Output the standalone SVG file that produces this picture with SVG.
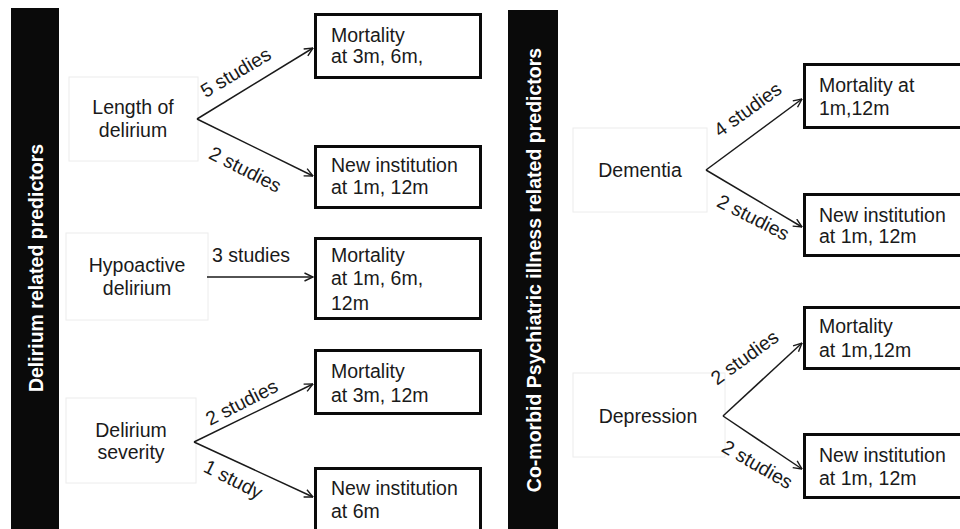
<svg xmlns="http://www.w3.org/2000/svg" width="960" height="529" viewBox="0 0 960 529">
<defs>
<style>
text{font-family:"Liberation Sans",Arial,sans-serif;font-size:19.5px;fill:#1a1a1a}
.bar{fill:#0a0a0a}
.bt{font-weight:bold;fill:#ffffff;text-anchor:middle}
.pred{fill:#ffffff;stroke:#ececec;stroke-width:1}
.out{fill:#ffffff;stroke:#0a0a0a;stroke-width:3}
.c{text-anchor:middle}
.lbl{text-anchor:middle}
.conn line{stroke:#1a1a1a;stroke-width:1.5;fill:none}
</style>
<marker id="ah" viewBox="0 0 10 10" refX="9.5" refY="5" markerWidth="10" markerHeight="10" markerUnits="userSpaceOnUse" orient="auto">
<path d="M1,1 L9.5,5 L1,9" fill="none" stroke="#1a1a1a" stroke-width="1.4"/>
</marker>
</defs>
<rect width="960" height="529" fill="#ffffff"/>

<g id="bar-left">
<rect class="bar" x="11" y="8" width="48" height="530"/>
<text class="bt" transform="translate(43,268) rotate(-90)">Delirium related predictors</text>
</g>
<g id="bar-right">
<rect class="bar" x="508" y="10" width="50" height="530"/>
<text class="bt" transform="translate(541,270) rotate(-90)">Co-morbid Psychiatric illness related predictors</text>
</g>

<g id="length-of-delirium">
<rect class="pred" x="69" y="77" width="129" height="84"/>
<text class="c" x="133" y="114">Length of</text>
<text class="c" x="133" y="137">delirium</text>
</g>
<g id="hypoactive-delirium">
<rect class="pred" x="66" y="233" width="142" height="87"/>
<text class="c" x="137" y="272">Hypoactive</text>
<text class="c" x="137" y="295">delirium</text>
</g>
<g id="delirium-severity">
<rect class="pred" x="66" y="398" width="130" height="85"/>
<text class="c" x="131" y="437">Delirium</text>
<text class="c" x="131" y="459">severity</text>
</g>
<g id="dementia">
<rect class="pred" x="573" y="128" width="134" height="84"/>
<text class="c" x="640" y="177">Dementia</text>
</g>
<g id="depression">
<rect class="pred" x="573" y="373" width="152" height="84"/>
<text class="c" x="648" y="423">Depression</text>
</g>

<g id="out-mort-1">
<rect class="out" x="315.5" y="14.5" width="165" height="63"/>
<text x="331" y="42">Mortality</text>
<text x="331" y="63">at 3m, 6m,</text>
</g>
<g id="out-inst-1">
<rect class="out" x="315.5" y="146.5" width="165" height="61"/>
<text x="331" y="172">New institution</text>
<text x="331" y="194">at 1m, 12m</text>
</g>
<g id="out-mort-2">
<rect class="out" x="315.5" y="238.5" width="165" height="80"/>
<text x="331" y="262">Mortality</text>
<text x="331" y="285">at 1m, 6m,</text>
<text x="331" y="310">12m</text>
</g>
<g id="out-mort-3">
<rect class="out" x="315.5" y="350.5" width="165" height="63"/>
<text x="331" y="378">Mortality</text>
<text x="331" y="402">at 3m, 12m</text>
</g>
<g id="out-inst-2">
<rect class="out" x="315.5" y="468.5" width="165" height="80"/>
<text x="331" y="495">New institution</text>
<text x="331" y="518">at 6m</text>
</g>
<g id="out-mort-4">
<rect class="out" x="804.5" y="64.5" width="170" height="63"/>
<text x="819" y="92">Mortality at</text>
<text x="819" y="115">1m,12m</text>
</g>
<g id="out-inst-3">
<rect class="out" x="804.5" y="194.5" width="170" height="61"/>
<text x="819" y="222">New institution</text>
<text x="819" y="243">at 1m, 12m</text>
</g>
<g id="out-mort-5">
<rect class="out" x="804.5" y="307.5" width="170" height="61"/>
<text x="819" y="333">Mortality</text>
<text x="819" y="357">at 1m,12m</text>
</g>
<g id="out-inst-4">
<rect class="out" x="804.5" y="434.5" width="170" height="63"/>
<text x="819" y="462">New institution</text>
<text x="819" y="485">at 1m, 12m</text>
</g>

<g id="connectors" class="conn">
<line x1="197" y1="119" x2="313" y2="48" marker-end="url(#ah)"/>
<line x1="197" y1="119" x2="313" y2="176" marker-end="url(#ah)"/>
<line x1="207" y1="277" x2="313" y2="277" marker-end="url(#ah)"/>
<line x1="194" y1="442" x2="313" y2="384" marker-end="url(#ah)"/>
<line x1="194" y1="442" x2="313" y2="497" marker-end="url(#ah)"/>
<line x1="706" y1="170" x2="802" y2="99" marker-end="url(#ah)"/>
<line x1="706" y1="170" x2="802" y2="227" marker-end="url(#ah)"/>
<line x1="723" y1="416" x2="802" y2="343" marker-end="url(#ah)"/>
<line x1="723" y1="416" x2="802" y2="469" marker-end="url(#ah)"/>
<text class="lbl" transform="translate(236,73) rotate(-31)" dy="6">5 studies</text>
<text class="lbl" transform="translate(245,170) rotate(27)" dy="6">2 studies</text>
<text class="lbl" x="251" y="262">3 studies</text>
<text class="lbl" transform="translate(242,403) rotate(-27)" dy="6">2 studies</text>
<text class="lbl" transform="translate(233,480) rotate(27)" dy="6">1 study</text>
<text class="lbl" transform="translate(748,110) rotate(-36)" dy="6">4 studies</text>
<text class="lbl" transform="translate(753,218) rotate(27)" dy="6">2 studies</text>
<text class="lbl" transform="translate(745,358) rotate(-36)" dy="6">2 studies</text>
<text class="lbl" transform="translate(757,465) rotate(30)" dy="6">2 studies</text>
</g>
</svg>
